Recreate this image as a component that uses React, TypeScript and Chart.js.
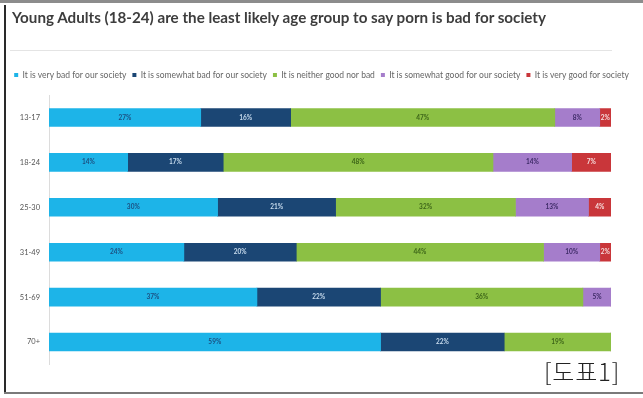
import React, { useEffect, useRef } from "react";
import { Chart, registerables } from "chart.js";

Chart.register(...registerables);

const TITLE = "Young Adults (18-24) are the least likely age group to say porn is bad for society";
const CAPTION = "[도표1]";

const ageGroups = ["13-17", "18-24", "25-30", "31-49", "51-69", "70+"];

const seriesNames = [
  "It is very bad for our society",
  "It is somewhat bad for our society",
  "It is neither good nor bad",
  "It is somewhat good for our society",
  "It is very good for society",
];

const veryBad = [27, 14, 30, 24, 37, 59];
const somewhatBad = [16, 17, 21, 20, 22, 22];
const neither = [47, 48, 32, 44, 36, 19];
const somewhatGood = [8, 14, 13, 10, 5, 0];
const veryGood = [2, 7, 4, 2, 0, 0];

const seriesValues = [veryBad, somewhatBad, neither, somewhatGood, veryGood];
const seriesColors = ["#1db4e8", "#1b4674", "#8cc044", "#a57dcb", "#c9363a"];
const labelColors = ["#1c4f80", "#c8dcee", "#3c6418", "#3d2a66", "#f6dede"];

const dataLabelPlugin = {
  id: "segLabels",
  afterDatasetsDraw(chart: any) {
    const ctx = chart.ctx;
    ctx.save();
    ctx.font = "bold 6.5px Lato";
    ctx.textAlign = "center";
    ctx.textBaseline = "middle";
    chart.data.datasets.forEach((ds: any, di: number) => {
      const meta = chart.getDatasetMeta(di);
      meta.data.forEach((bar: any, i: number) => {
        const v = ds.data[i];
        if (!v) return;
        const { x, y, base } = bar.getProps(["x", "y", "base"], true);
        ctx.fillStyle = labelColors[di];
        ctx.fillText(v + "%", (x + base) / 2, y);
      });
    });
    ctx.restore();
  },
};

export default function App() {
  const ref = useRef<HTMLCanvasElement>(null);

  useEffect(() => {
    document.body.style.margin = "0";
    const chart = new Chart(ref.current!, {
      type: "bar",
      data: {
        labels: ageGroups,
        datasets: seriesNames.map((name, i) => ({
          label: name,
          data: seriesValues[i],
          backgroundColor: seriesColors[i],
          borderWidth: 0,
          barThickness: 18,
          xAxisID: "x",
        })),
      },
      options: {
        indexAxis: "y",
        animation: false,
        responsive: false,
        maintainAspectRatio: false,
        layout: { padding: { top: 64.75, bottom: 33.5, left: 0, right: 0 } },
        plugins: {
          title: { display: false },
          tooltip: { enabled: false },
          legend: {
            position: "top",
            align: "center",
            labels: {
              boxWidth: 4,
              boxHeight: 4,
              padding: 6,
              color: "#666",
              font: { family: "Lato", size: 8.5 },
            },
          },
        },
        scales: {
          x: {
            stacked: true,
            min: 0,
            max: 100,
            position: "top",
            grid: { display: false },
            border: { display: false },
            ticks: { display: false },
            afterFit(scale: any) {
              scale.height = 5.75;
            },
          },
          y: {
            stacked: true,
            grid: { display: false, drawTicks: false },
            border: { display: true, color: "#dcdcdc", dash: [2, 2] },
            ticks: {
              padding: 9,
              color: "#555",
              font: { family: "Lato", size: 7.5 },
            },
            afterFit(scale: any) {
              scale.width = 49;
            },
          },
          yRight: {
            type: "category",
            position: "right",
            labels: ageGroups,
            grid: { display: false, drawTicks: false },
            border: { display: false },
            ticks: { display: false },
            afterFit(scale: any) {
              scale.width = 32;
            },
          },
        },
      },
      plugins: [dataLabelPlugin],
    } as any);
    return () => chart.destroy();
  }, []);

  return (
    <div style={{ position: "relative", width: 643, height: 398, background: "#fff", overflow: "hidden" }}>
      <canvas ref={ref} width={643} height={398} style={{ position: "absolute", left: 0, top: 0 }} />
      <div style={{ position: "absolute", left: 0, top: 0, width: 643, height: 3, background: "#8c8c8c" }} />
      <div style={{ position: "absolute", left: 4, top: 5, width: 2, height: 389, background: "#2a2a2a" }} />
      <div style={{ position: "absolute", left: 4, top: 392, width: 639, height: 2, background: "#7a7a7a" }} />
      <div style={{ position: "absolute", left: 10, top: 50, width: 602, height: 1, background: "#e4e4e4" }} />
      <div
        style={{
          position: "absolute",
          left: 12,
          top: 8,
          fontFamily: "Lato",
          fontWeight: 700,
          fontSize: 15.2,
          color: "#3d3d3d",
          whiteSpace: "nowrap",
          lineHeight: "18px",
        }}
      >
        {TITLE}
      </div>
      <div
        style={{
          position: "absolute",
          left: 544,
          top: 355,
          fontFamily: "'Noto Sans CJK KR'",
          fontWeight: 300,
          fontSize: 24,
          letterSpacing: 0.8,
          color: "#222",
          whiteSpace: "nowrap",
          lineHeight: "32px",
        }}
      >
        {CAPTION}
      </div>
    </div>
  );
}
